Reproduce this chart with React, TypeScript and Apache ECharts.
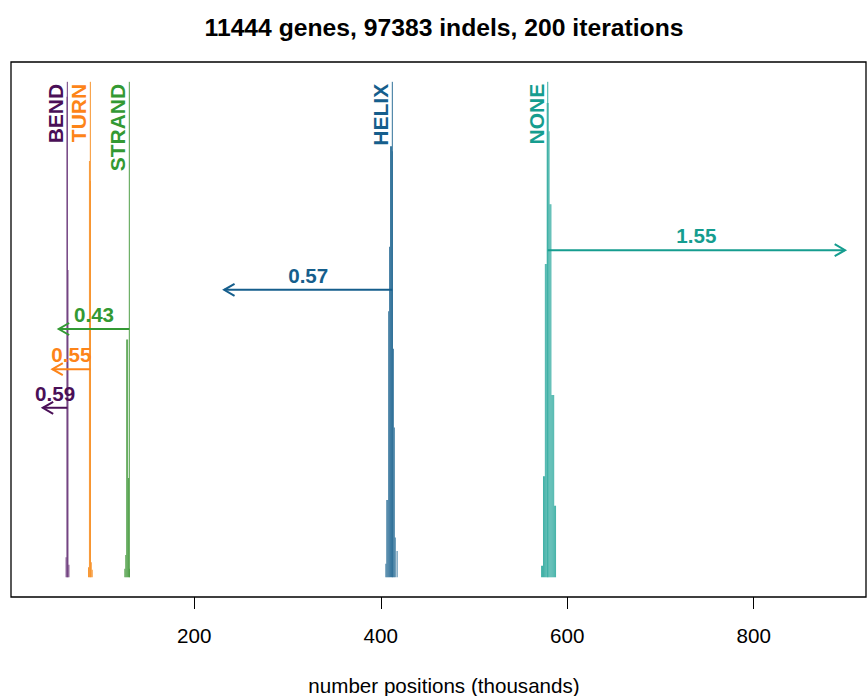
import React, { useEffect, useRef } from "react";
import * as echarts from "echarts";

// ---- data ----
const groups = ["BEND", "TURN", "STRAND", "HELIX", "NONE"];
const observed = [63.8, 88.5, 130.3, 412.4, 579.1];
const expected = [37.5, 47.8, 54.6, 232, 898];
const arrowLevel = [0.342, 0.42, 0.501, 0.58, 0.66];
const foldLabels = ["0.59", "0.55", "0.43", "0.57", "1.55"];

// histogram bins: [binStart, binEnd, relative height]
const histBend = [
  [62, 63, 0.04],
  [63, 64, 0.97],
  [64, 65, 0.62],
  [65, 66, 0.025],
];
const histTurn = [
  [86, 87, 0.02],
  [87, 88, 0.84],
  [88, 89, 0.8],
  [89, 90, 0.03],
  [90, 91, 0.015],
];
const histStrand = [
  [125, 126, 0.017],
  [126, 127, 0.045],
  [127, 128, 0.48],
  [128, 129, 0.48],
  [129, 130, 0.2],
  [130, 131, 0.017],
];
const histHelix = [
  [405, 406, 0.027],
  [406, 407, 0.156],
  [407, 408, 0.156],
  [408, 409, 0.537],
  [409, 410, 0.667],
  [410, 411, 0.87],
  [411, 412, 0.87],
  [412, 413, 0.86],
  [413, 414, 0.461],
  [414, 415, 0.302],
  [415, 416, 0.08],
  [417, 418, 0.053],
];
const histNone = [
  [572, 573, 0.023],
  [573, 574, 0.023],
  [574, 575, 0.204],
  [575, 576, 0.204],
  [576, 577, 0.632],
  [577, 578, 0.632],
  [578, 579, 0.957],
  [579, 580, 0.957],
  [580, 581, 0.9],
  [581, 582, 0.753],
  [582, 583, 0.753],
  [583, 584, 0.368],
  [584, 585, 0.368],
  [585, 586, 0.368],
  [586, 587, 0.144],
  [587, 588, 0.144],
];
const histograms = [histBend, histTurn, histStrand, histHelix, histNone];

const xTicks = [200, 400, 600, 800];
const titleText = "11444 genes, 97383 indels, 200 iterations";
const xAxisName = "number positions (thousands)";

const textColors = ["#4a0f57", "#fd8418", "#339933", "#155e8c", "#159d8f"];
const histColors = ["#6d3b7c", "#f7922a", "#4f9f47", "#2f7099", "#36ada2"];

const FONT = '"Liberation Sans", Arial, Helvetica, sans-serif';

export default function App() {
  const ref = useRef<HTMLDivElement>(null);

  useEffect(() => {
    if (!ref.current) return;
    const chart = echarts.init(ref.current, undefined, { renderer: "svg" });

    const histSeries = histograms.map((bins, gi) => ({
      type: "custom",
      name: groups[gi],
      data: bins,
      encode: { x: [0, 1], y: 2 },
      renderItem: (params: any, api: any) => {
        const a = api.coord([api.value(0), api.value(2)]);
        const b = api.coord([api.value(1), 0]);
        return {
          type: "rect",
          shape: { x: a[0], y: a[1], width: b[0] - a[0], height: b[1] - a[1] },
          style: { fill: histColors[gi] },
        };
      },
      silent: true,
    }));

    const markerData = groups.map((g, i) => [observed[i], expected[i], arrowLevel[i], i]);

    const markerSeries = {
      type: "custom",
      data: markerData,
      encode: { x: [0, 1], y: 2 },
      silent: true,
      z: 5,
      renderItem: (params: any, api: any) => {
        const obs = api.value(0);
        const exp = api.value(1);
        const lvl = api.value(2);
        const i = api.value(3);
        const top = api.coord([obs, 1]);
        const base = api.coord([obs, 0]);
        const s = api.coord([obs, lvl]);
        const e = api.coord([exp, lvl]);
        const dir = e[0] >= s[0] ? 1 : -1;
        const hx = 10.4;
        const hy = 6;
        const col = textColors[i];
        return {
          type: "group",
          children: [
            {
              type: "line",
              shape: { x1: top[0], y1: top[1], x2: base[0], y2: base[1] },
              style: { stroke: histColors[i], lineWidth: 1 },
            },
            {
              type: "text",
              x: top[0] - 1,
              y: top[1] + 2,
              rotation: Math.PI / 2,
              style: {
                text: groups[i],
                fill: col,
                fontSize: 21,
                fontWeight: "bold",
                fontFamily: FONT,
                align: "right",
                verticalAlign: "bottom",
              },
            },
            {
              type: "line",
              shape: { x1: s[0], y1: s[1], x2: e[0], y2: e[1] },
              style: { stroke: col, lineWidth: 2 },
            },
            {
              type: "polyline",
              shape: {
                points: [
                  [e[0] - dir * hx, e[1] - hy],
                  [e[0], e[1]],
                  [e[0] - dir * hx, e[1] + hy],
                ],
              },
              style: { stroke: col, lineWidth: 2, fill: null },
            },
            {
              type: "text",
              x: (s[0] + e[0]) / 2,
              y: s[1] - 4,
              style: {
                text: foldLabels[i],
                fill: col,
                fontSize: 20.6,
                fontWeight: "bold",
                fontFamily: FONT,
                align: "center",
                verticalAlign: "bottom",
              },
            },
          ],
        };
      },
    };

    chart.setOption({
      animation: false,
      backgroundColor: "#ffffff",
      grid: {
        left: 11,
        top: 62,
        width: 855,
        height: 535,
        show: true,
        borderColor: "#000",
        borderWidth: 1.3,
        backgroundColor: "transparent",
      },
      xAxis: {
        type: "value",
        min: 3.4,
        max: 920.45,
        splitLine: { show: false },
        axisLine: { show: false, onZero: false },
        axisTick: {
          show: true,
          length: 12,
          inside: false,
          customValues: xTicks,
          lineStyle: { color: "#000", width: 1 },
        },
        axisLabel: {
          customValues: xTicks,
          fontSize: 20.6,
          color: "#000",
          margin: 28,
          fontFamily: FONT,
        },
      },
      yAxis: {
        type: "value",
        min: -0.04,
        max: 1.04,
        show: false,
      },
      graphic: [
        {
          type: "text",
          x: 444,
          y: 27,
          style: {
            text: titleText,
            fill: "#000",
            fontSize: 24.7,
            fontWeight: "bold",
            fontFamily: FONT,
            align: "center",
            verticalAlign: "middle",
          },
        },
        {
          type: "text",
          x: 444,
          y: 685,
          style: {
            text: xAxisName,
            fill: "#000",
            fontSize: 20.6,
            fontFamily: FONT,
            align: "center",
            verticalAlign: "middle",
          },
        },
      ],
      series: [...histSeries, markerSeries],
    });

    return () => chart.dispose();
  }, []);

  return (
    <div
      ref={ref}
      style={{ position: "absolute", left: 0, top: 0, width: 868, height: 696 }}
    />
  );
}
